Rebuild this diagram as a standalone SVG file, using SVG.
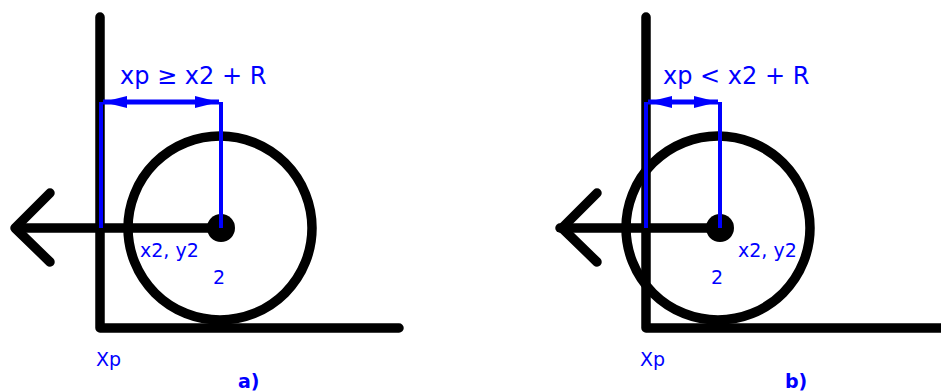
<svg xmlns="http://www.w3.org/2000/svg" width="941" height="391" viewBox="0 0 941 391">
<style>
.blk{stroke:#000;stroke-width:9.5;fill:none;stroke-linecap:round;stroke-linejoin:round}
.circ{stroke:#000;stroke-width:9.5;fill:none}
.blue{stroke:#0000ff;stroke-width:4;fill:none}
.dim{stroke:#0000ff;stroke-width:5;fill:none}
.t{font-family:"DejaVu Sans","Liberation Sans",sans-serif;fill:#0000ff}
.big{font-size:24px}
.sm{font-size:19px}
.lab{font-family:"DejaVu Sans","Liberation Sans",sans-serif;font-weight:bold;font-size:19px;fill:#0000ff}
</style>
<defs>
<marker id="ah" viewBox="0 0 24 12" refX="24" refY="6" markerWidth="24" markerHeight="12" markerUnits="userSpaceOnUse" orient="auto-start-reverse">
<path d="M0,0 L24,6 L0,12 z" fill="#0000ff"/>
</marker>
</defs>
<g id="panel-a">
<g id="a-axes"><path class="blk" d="M100,17 V328 H399"/></g>
<g id="a-wheel"><circle class="circ" cx="220" cy="228" r="92"/><circle cx="221" cy="228" r="14" fill="#000"/></g>
<g id="a-connectors">
<path class="blk" d="M221,228 H16"/>
<path class="blk" d="M50,193 L15,228 L50,262"/>
<path class="blue" d="M101,102 V228"/>
<path class="blue" d="M221,102 V228"/>
<path class="dim" d="M103,102 H219" marker-start="url(#ah)" marker-end="url(#ah)"/>
</g>
<text class="t big" x="120" y="84">xp ≥ x2 + R</text>
<text class="t sm" x="140" y="257">x2, y2</text>
<text class="t sm" x="213" y="284">2</text>
<text class="t sm" x="96" y="366">Xp</text>
<text class="lab" x="238" y="388">a)</text>
</g>
<g id="panel-b">
<g id="b-axes"><path class="blk" d="M646,17 V328 H945"/></g>
<g id="b-wheel"><circle class="circ" cx="718" cy="228" r="92"/><circle cx="720" cy="228" r="14" fill="#000"/></g>
<g id="b-connectors">
<path class="blk" d="M720,228 H560"/>
<path class="blk" d="M597,193 L562,228 L597,262"/>
<path class="blue" d="M646,102 V228"/>
<path class="blue" d="M720,102 V228"/>
<path class="dim" d="M648,102 H718" marker-start="url(#ah)" marker-end="url(#ah)"/>
</g>
<text class="t big" x="663" y="84">xp &lt; x2 + R</text>
<text class="t sm" x="738" y="257">x2, y2</text>
<text class="t sm" x="711" y="284">2</text>
<text class="t sm" x="640" y="366">Xp</text>
<text class="lab" x="785" y="388">b)</text>
</g>
</svg>
